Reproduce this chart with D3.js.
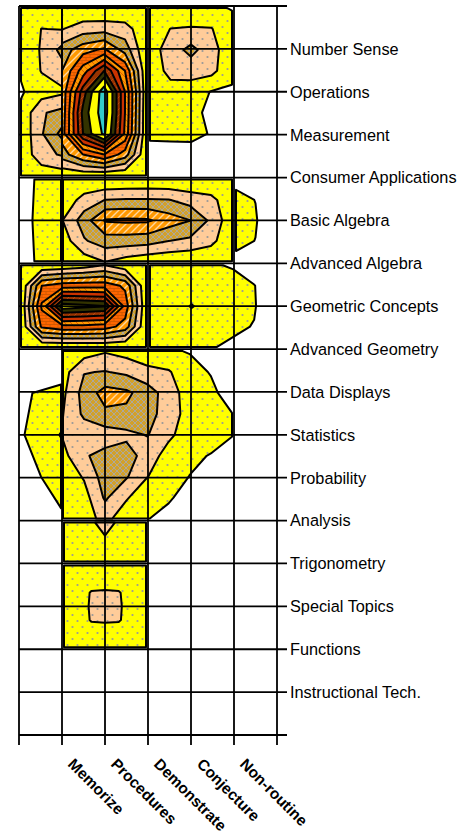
<!DOCTYPE html>
<html><head><meta charset="utf-8">
<script src="https://cdn.jsdelivr.net/npm/d3@7"></script>
<style>body{margin:0;background:#fff}svg{display:block}text{font-family:"Liberation Sans",Arial,sans-serif}</style>
</head><body>
<script>
// ---- categories / tick labels ----
const topics = ["Number Sense","Operations","Measurement","Consumer Applications","Basic Algebra","Advanced Algebra","Geometric Concepts","Advanced Geometry","Data Displays","Statistics","Probability","Analysis","Trigonometry","Special Topics","Functions","Instructional Tech."];
const expectations = ["Memorize","Procedures","Demonstrate","Conjecture","Non-routine"];
// contour levels (band lower bounds)
const levels = [1,2,3,4,5,6,7,8,9,10,11.25];

// ---- surface values, one block at a time (rows top->bottom) ----
// Number Sense..Consumer Applications, Memorize (half-cell spacing)
const numberLeft = [
  [1.05, 1.1, 1.1],
  [1.1, 2.02, 1.95],
  [1.2, 2.1, 3.3],
  [1.1, 2.05, 2.6],
  [0.9, 1.5, 1.8],
  [1.2, 2.9, 3.3],
  [1.2, 2.9, 4.3],
  [1.2, 2.7, 3.1],
  [1.1, 1.3, 1.5]];
const numberCenter = [
  [1.1, 1.1, 1.0, 1.1, 1.1],
  [1.95,2.5, 2.6, 2.4, 1.3],
  [3.5, 4.6, 5.2, 3.6, 1.1],
  [4.0, 6.5, 9.0, 6.0, 1.2],
  [4.3, 8.5, 12.0,7.0, 1.3],
  [4.3, 9.3, 12.0,7.0, 1.2],
  [4.5, 9.0, 11.5,6.8, 1.2],
  [3.5, 5.0, 6.0, 4.5, 1.1],
  [1.2, 1.3, 1.2, 1.1, 1.05]];
const numberRight = [
  [1.05, 1.1, 1.1, 1.1, 0.97],
  [1.3, 2.02, 2.1, 2.05, 1.2],
  [1.5, 2.5, 3.3, 2.4, 1.3],
  [1.4, 2.3, 2.4, 2.3, 1.2],
  [1.3, 1.6, 1.5, 0.95, 0.9],
  [1.25,1.4, 1.35,0.7, 0],
  [1.2, 1.3, 1.4, 0.9, 0],
  [0.6, 0.5, 0.4, 0,   0],
  [0,   0,   0,   0,   0]];
// Basic Algebra / Advanced Algebra
const algebraLeft = [
  [0.95, 1.1],
  [0.8,  1.5],
  [0.95, 1.1]];
const algebraCenter = [
  [1.2, 1.1, 1.05, 1.1, 1.15, 1.1, 1.05, 1.05, 1.05],
  [1.3, 2.4, 3.02, 3.1, 3.1, 3.05, 2.6, 2.3, 1.3],
  [2.02,3.5, 5.1, 5.2, 5.15, 4.5, 4.02, 2.8, 1.3],
  [1.5, 2.9, 3.5, 3.5, 3.4, 3.02, 2.8, 2.3, 1.2],
  [1.1, 1.5, 2.05, 1.6, 1.3, 1.2, 1.1, 1.1, 1.1]];
const algebraRight = [
  [0.7, 0.3, 0],
  [1.3, 0.98, 0],
  [1.5, 1.1, 0],
  [1.3, 0.98, 0],
  [0.7, 0.3, 0]];
// Geometric Concepts / Advanced Geometry
const geometryLeft = [
  [1.05, 1.1, 1.2, 1.5, 2.02, 1.3, 1.05],
  [1.1, 5.0, 5.5, 5.6, 5.6, 4.8, 1.1],
  [1.15, 6.2, 10.6, 10.3, 10.05, 5.6, 1.2],
  [1.1, 5.2, 5.7, 5.7, 5.5, 4.6, 1.1],
  [1.05, 1.05, 1.05, 1.05, 1.1, 1.05, 1.05]];
const geometryRight = [
  [1.1, 1.1, 1.1, 1.1, 0.9, 0.2, 0],
  [1.3, 1.4, 1.5, 1.5, 1.4, 1.05, 0],
  [1.4, 1.6, 2.05, 1.6, 1.5, 1.1, 0],
  [1.3, 1.4, 1.5, 1.5, 1.2, 0.95, 0],
  [1.1, 1.1, 1.1, 1.05, 0.8, 0, 0]];
// Data Displays .. Analysis
const dataLeft = [
  [0,    0.2],
  [0.92, 1.2],
  [0.9,  2.05],
  [0.7,  1.3],
  [0.5,  0.9]];
const dataCenter = [
  [1.05, 1.5, 1.9, 1.6, 1.3, 1.1, 0.95, 0.2, 0],
  [1.6, 2.95, 3.05, 2.8, 2.3, 2.1, 1.3, 0.95, 0],
  [1.8, 3.4, 4.4, 4.2, 3.5, 2.5, 1.5, 1.2, 0.6],
  [1.98, 3.2, 3.8, 3.8, 3.4, 2.5, 1.6, 1.4, 1.02],
  [2.1, 2.4, 2.5, 2.75, 3.05, 2.2, 1.5, 1.4, 1.1],
  [1.7, 2.9, 3.3, 3.5, 2.5, 1.6, 1.2, 0.95, 0],
  [1.3, 2.1, 3.5, 3.1, 2.02, 1.4, 0.98, 0, 0],
  [1.2, 1.6, 3.15, 2.1, 1.3, 1.15, 0.5, 0, 0],
  [1.1, 1.6, 2.3, 1.4, 1.05, 0.6, 0.2, 0, 0]];
// Trigonometry
const trigCenter = [
  [1.05, 2.3, 1.05],
  [1.05, 1.4, 1.05]];
// Special Topics (third-cell spacing)
const specialCenter = [
  [1.05,1.05,1.05,1.05,1.05,1.05,1.05],
  [1.05,1.2, 1.3, 1.4, 1.3, 1.2, 1.05],
  [1.05,1.3, 2.1, 2.15,2.1, 1.4, 1.1],
  [1.05,1.4, 2.15,2.2, 2.15,1.5, 1.1],
  [1.05,1.3, 2.1, 2.15,2.1, 1.5, 1.1],
  [1.05,1.2, 1.3, 1.4, 1.4, 1.3, 1.1],
  [1.05,1.05,1.05,1.05,1.1, 1.1, 1.1]];

// block placement: first grid column/row, node spacing (in grid cells), white margin [top,right,bottom,left]
const blocks = [
  {c0:0, r0:0, step:0.5, gap:[2,0,2,2], values:numberLeft},
  {c0:1, r0:0, step:0.5, gap:[2,2,2,0], values:numberCenter},
  {c0:3, r0:0, step:0.5, gap:[2,2,2,2], values:numberRight},
  {c0:0, r0:4, step:1,   gap:[2,1,2,2], values:algebraLeft},
  {c0:1, r0:4, step:0.5, gap:[2,2,2,1], values:algebraCenter},
  {c0:5, r0:4, step:0.5, gap:[2,2,2,2], values:algebraRight},
  {c0:0, r0:6, step:0.5, gap:[2,2,2,2], values:geometryLeft},
  {c0:3, r0:6, step:0.5, gap:[2,2,2,2], values:geometryRight},
  {c0:0, r0:8, step:1,   gap:[2,1,2,2], values:dataLeft},
  {c0:1, r0:8, step:0.5, gap:[2,2,2,1], values:dataCenter},
  {c0:1, r0:12, step:1,  gap:[2,2,2,2], values:trigCenter},
  {c0:1, r0:13, step:1/3, gap:[2,2,2,2], values:specialCenter}];

const W = 466, H = 836;
const svg = d3.select("body").append("svg").attr("width", W).attr("height", H);
const defs = svg.append("defs");
function dots(id, bg){
  const p = defs.append("pattern").attr("id",id).attr("patternUnits","userSpaceOnUse").attr("width",10).attr("height",12);
  p.append("rect").attr("width",10).attr("height",12).attr("fill",bg);
  p.append("circle").attr("cx",2.5).attr("cy",3).attr("r",1.1).attr("fill","#999");
  p.append("circle").attr("cx",7.5).attr("cy",9).attr("r",1.1).attr("fill","#999");
}
dots("dotY","#FFFF00");
dots("dotP","#FFCC99");
{
  const p = defs.append("pattern").attr("id","hatch").attr("patternUnits","userSpaceOnUse").attr("width",6).attr("height",6);
  p.append("rect").attr("width",6).attr("height",6).attr("fill","#D2A12A");
  p.append("path").attr("d","M0,0L6,6M6,0L0,6").attr("stroke","#A9A9A9").attr("stroke-width",0.9);
}
{
  const p = defs.append("pattern").attr("id","stripeO").attr("patternUnits","userSpaceOnUse").attr("width",7).attr("height",7);
  p.append("rect").attr("width",7).attr("height",7).attr("fill","#FF9900");
  p.append("path").attr("d","M0,7L7,0M-1,1L1,-1M6,8L8,6").attr("stroke","#FFD8A0").attr("stroke-width",1.4);
}
{
  const p = defs.append("pattern").attr("id","brick").attr("patternUnits","userSpaceOnUse").attr("width",8).attr("height",6);
  p.append("rect").attr("width",8).attr("height",6).attr("fill","#FF6600");
  p.append("path").attr("d","M0,0.5H8M0,3.5H8M2,0.5V3.5M6,3.5V6").attr("stroke","#CC5500").attr("stroke-width",0.8);
}
{
  const p = defs.append("pattern").attr("id","stripe2").attr("patternUnits","userSpaceOnUse").attr("width",6).attr("height",6);
  p.append("rect").attr("width",6).attr("height",6).attr("fill","#FF9900");
  p.append("path").attr("d","M0,0L6,6M-1,5L1,7M5,-1L7,1").attr("stroke","#E06000").attr("stroke-width",1);
}
{
  const p = defs.append("pattern").attr("id","darkred").attr("patternUnits","userSpaceOnUse").attr("width",6).attr("height",6);
  p.append("rect").attr("width",6).attr("height",6).attr("fill","#993300");
  p.append("path").attr("d","M0,6L6,0").attr("stroke","#B84A10").attr("stroke-width",1);
}
const fills = ["url(#dotY)","url(#dotP)","url(#hatch)","url(#stripeO)","url(#brick)","url(#stripe2)","#CC3300","url(#darkred)","#333300","#FFFF00","#33CCCC"];

const x = d3.scaleLinear().domain([0, 6]).range([19, 277]);
const y = d3.scaleLinear().domain([0, 17]).range([6, 735]);

const surf = svg.append("g");
blocks.forEach(b => {
  const ny = b.values.length, nx = b.values[0].length, s = b.step, g = b.gap;
  const bx = d3.scaleLinear().domain([0, nx - 1]).range([x(b.c0) + g[3], x(b.c0 + (nx - 1) * s) - g[1]]);
  const by = d3.scaleLinear().domain([0, ny - 1]).range([y(b.r0) + g[0], y(b.r0 + (ny - 1) * s) - g[2]]);
  const cs = d3.contours().size([nx, ny]).thresholds(levels)(b.values.flat());
  const proj = d3.geoTransform({point(px, py){
    const sx = Math.max(0, Math.min(nx - 1, px - 0.5));
    const sy = Math.max(0, Math.min(ny - 1, py - 0.5));
    this.stream.point(bx(sx), by(sy));
  }});
  const path = d3.geoPath(proj);
  surf.append("g").selectAll("path").data(cs).join("path")
    .attr("d", d => path(d) || "")
    .attr("fill", (d, i) => fills[i])
    .attr("fill-rule", "evenodd")
    .attr("stroke", "#000").attr("stroke-width", 2).attr("stroke-linejoin", "round");
});

// grid lines and ticks
const grid = svg.append("g").attr("stroke", "#000").attr("stroke-width", 1.8);
d3.range(0, 7).forEach(c => grid.append("line").attr("x1", x(c)).attr("x2", x(c)).attr("y1", y(0)).attr("y2", y(17) + 10));
d3.range(0, 18).forEach(r => grid.append("line").attr("x1", x(0)).attr("x2", x(6) + 10).attr("y1", y(r)).attr("y2", y(r)));

// right-side topic labels
svg.append("g").selectAll("text").data(topics).join("text")
  .attr("x", x(6) + 13).attr("y", (d, i) => y(i + 1)).attr("dy", "0.36em")
  .attr("font-size", 16.3).attr("fill", "#000").text(d => d);

// rotated expectation labels
svg.append("g").selectAll("text").data(expectations).join("text")
  .attr("transform", (d, i) => `translate(${x(i + 1) + 5},765) rotate(45)`)
  .attr("font-size", 15.5).attr("font-weight", "bold").attr("fill", "#000").text(d => d);
</script>
</body></html>
